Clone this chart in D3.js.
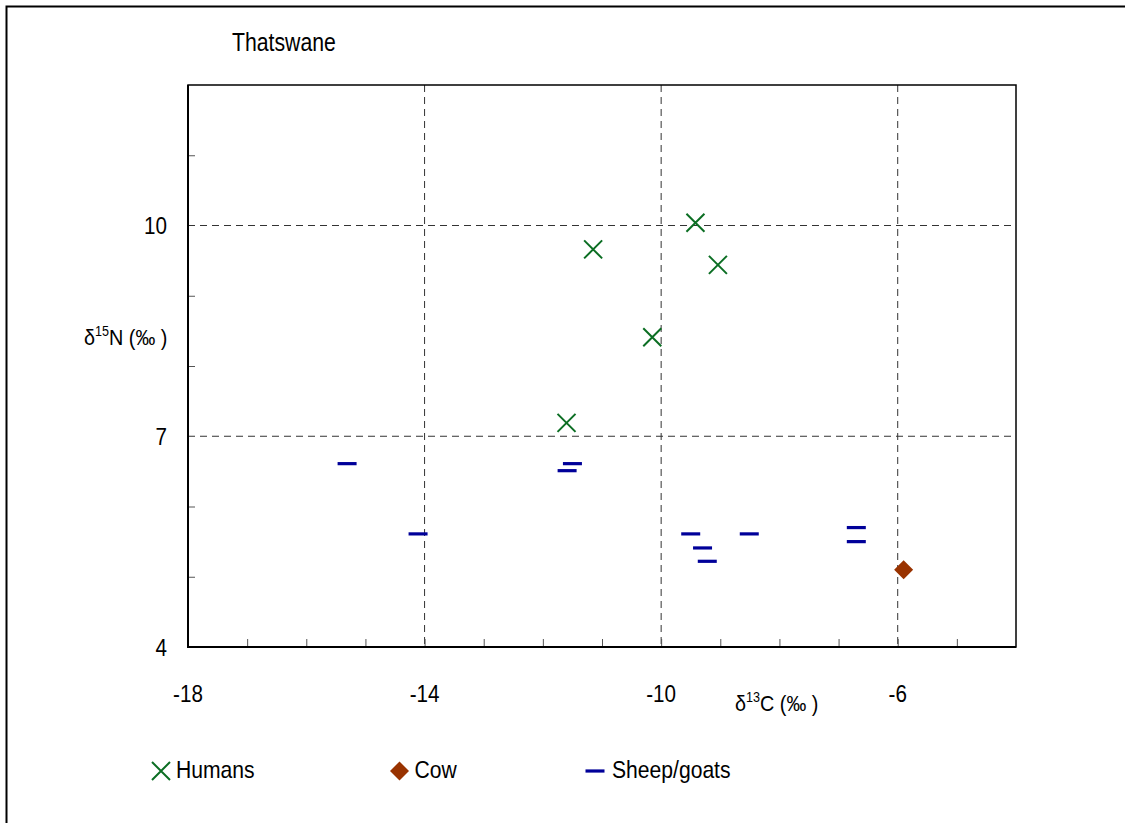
<!DOCTYPE html>
<html>
<head>
<meta charset="utf-8">
<script src="https://cdn.jsdelivr.net/npm/d3@7"></script>
<style>
  body { margin: 0; background: #fff; }
  text { font-family: "Liberation Sans", Arial, sans-serif; fill: #000; }
</style>
</head>
<body>
<svg width="1125" height="823"></svg>
<script>
const title = "Thatswane";

// d13C / d15N values
const humansC = [-11.15, -9.42, -9.04, -10.15, -11.6];
const humansN = [9.66, 10.04, 9.44, 8.41, 7.19];
const cowC = [-5.9];
const cowN = [5.1];
const sheepC = [-15.31, -14.11, -11.5, -11.59, -9.5, -8.51, -9.3, -9.22, -6.7, -6.7];
const sheepN = [6.61, 5.61, 6.61, 6.51, 5.61, 5.61, 5.41, 5.22, 5.7, 5.5];

const xTickLabels = [-18, -14, -10, -6];
const yTickLabels = [4, 7, 10];
const xMinor = d3.range(-17, -4);
const yMinor = [5, 6, 8, 9, 11];
const legendNames = ["Humans", "Cow", "Sheep/goats"];

const svg = d3.select("svg");
const plotLeft = 188, plotRight = 1016, plotTop = 85, plotBottom = 647;

const x = d3.scaleLinear().domain([-18, -4]).range([plotLeft, plotRight]);
const y = d3.scaleLinear().domain([4, 12]).range([plotBottom, plotTop]);

// outer frame
svg.append("rect")
  .attr("x", 6.5).attr("y", 6.5)
  .attr("width", 1130).attr("height", 830)
  .attr("fill", "none").attr("stroke", "#000").attr("stroke-width", 2);

function label(g, px, py, text, size, sx, anchor) {
  return g.append("text")
    .attr("transform", `translate(${px},${py}) scale(${sx},1)`)
    .attr("text-anchor", anchor)
    .style("font-size", size + "px")
    .text(text);
}

label(svg, 232, 51, title, 25, 0.85, "start");

// grid
const grid = svg.append("g")
  .attr("stroke", "#333")
  .attr("stroke-width", 1)
  .attr("stroke-dasharray", "7,5");

grid.selectAll("line.v")
  .data(xTickLabels.slice(1))
  .enter().append("line")
  .attr("x1", d => x(d)).attr("x2", d => x(d))
  .attr("y1", plotTop).attr("y2", plotBottom);

grid.selectAll("line.h")
  .data(yTickLabels.slice(1))
  .enter().append("line")
  .attr("x1", plotLeft).attr("x2", plotRight)
  .attr("y1", d => y(d)).attr("y2", d => y(d));

// minor ticks, drawn inward
svg.append("g")
  .attr("transform", `translate(0,${plotBottom})`)
  .call(d3.axisBottom(x).tickValues(xMinor).tickSize(-8).tickFormat(""))
  .call(g => g.select(".domain").remove())
  .selectAll("line").attr("stroke", "#555");

svg.append("g")
  .attr("transform", `translate(${plotLeft},0)`)
  .call(d3.axisLeft(y).tickValues(yMinor).tickSize(-7).tickFormat(""))
  .call(g => g.select(".domain").remove())
  .selectAll("line").attr("stroke", "#555");

// plot frame
svg.append("rect")
  .attr("x", plotLeft).attr("y", plotTop)
  .attr("width", plotRight - plotLeft).attr("height", plotBottom - plotTop)
  .attr("fill", "none").attr("stroke", "#000").attr("stroke-width", 1.5);

svg.append("path")
  .attr("d", `M${plotLeft},${plotTop}V${plotBottom}H${plotRight}`)
  .attr("fill", "none").attr("stroke", "#000").attr("stroke-width", 2);

// tick labels
const labels = svg.append("g");
xTickLabels.forEach(d => label(labels, x(d), 702, d, 24, 0.86, "middle"));
yTickLabels.forEach(d => label(labels, 167, y(d) + 8.5, d, 24, 0.86, "end"));

// axis titles
function isoTitle(px, py, sup, letter) {
  const t = svg.append("text")
    .attr("transform", `translate(${px},${py}) scale(0.9,1)`)
    .style("font-size", "22px");
  t.append("tspan").text("δ");
  t.append("tspan").attr("dy", -9).style("font-size", "14px").text(sup);
  t.append("tspan").attr("dy", 9).text(letter + " (‰ )");
}
isoTitle(84, 345, "15", "N");
isoTitle(735, 711, "13", "C");

// markers
const cross = (g, s) => g.append("path")
  .attr("d", `M${-s},${-s}L${s},${s}M${-s},${s}L${s},${-s}`)
  .attr("stroke", "#0b6e23").attr("stroke-width", 2).attr("fill", "none");
const dash = g => g.append("rect")
  .attr("x", -9.5).attr("y", -1.6).attr("width", 19).attr("height", 3.2)
  .attr("fill", "#000099");
const diamond = g => g.append("path")
  .attr("d", "M0,-9.5L9.5,0L0,9.5L-9.5,0Z")
  .attr("fill", "#993300");

const marks = svg.append("g");

marks.selectAll("g.sheep")
  .data(d3.zip(sheepC, sheepN))
  .enter().append("g")
  .attr("transform", d => `translate(${x(d[0])},${y(d[1])})`)
  .each(function () { dash(d3.select(this)); });

marks.selectAll("g.cow")
  .data(d3.zip(cowC, cowN))
  .enter().append("g")
  .attr("transform", d => `translate(${x(d[0])},${y(d[1])})`)
  .each(function () { diamond(d3.select(this)); });

marks.selectAll("g.human")
  .data(d3.zip(humansC, humansN))
  .enter().append("g")
  .attr("transform", d => `translate(${x(d[0])},${y(d[1])})`)
  .each(function () { cross(d3.select(this), 9); });

// legend
const legendX = [161, 399.5, 595];
const legendY = 771;
const legend = svg.append("g");
const markers = [g => cross(g, 9), diamond, dash];
legendNames.forEach((name, i) => {
  const g = legend.append("g").attr("transform", `translate(${legendX[i]},${legendY})`);
  markers[i](g);
  label(legend, legendX[i] + (i === 2 ? 17 : 15), 778, name, 24, 0.88, "start");
});
</script>
</body>
</html>
